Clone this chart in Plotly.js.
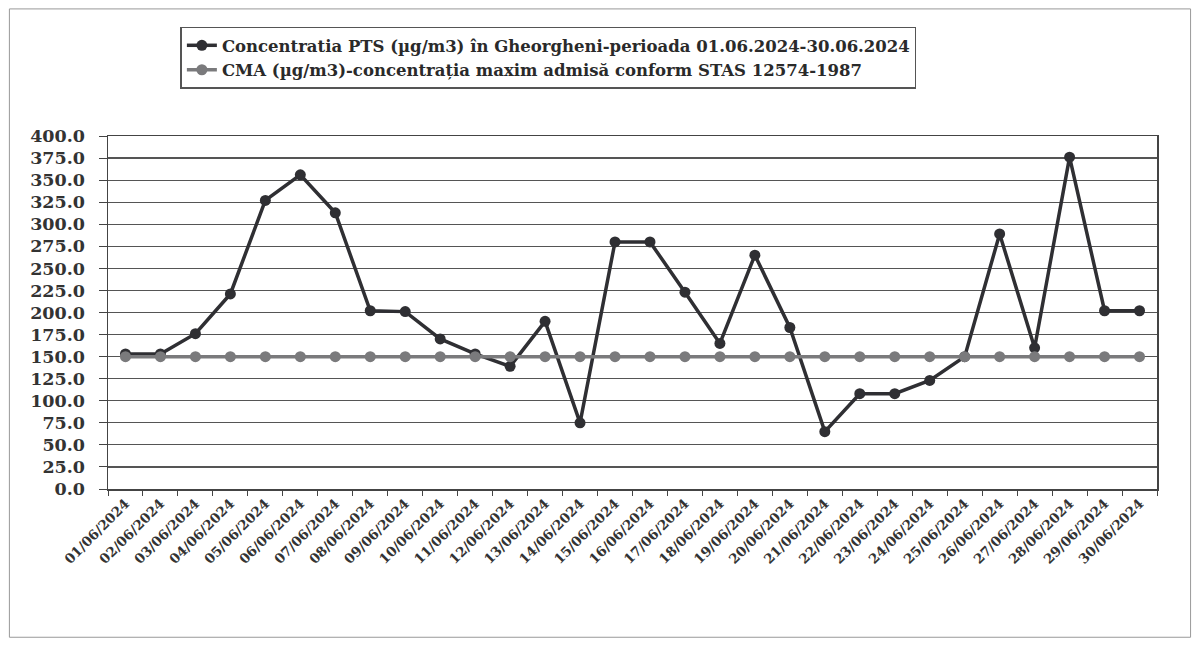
<!DOCTYPE html>
<html>
<head>
<meta charset="utf-8">
<script src="https://cdn.plot.ly/plotly-3.0.1.min.js"></script>
<style>
html,body{margin:0;padding:0;background:#fff;}
#chart{width:1200px;height:645px;}
</style>
</head>
<body>
<div id="chart"></div>
<script>
const dates = ["01/06/2024","02/06/2024","03/06/2024","04/06/2024","05/06/2024","06/06/2024","07/06/2024","08/06/2024","09/06/2024","10/06/2024","11/06/2024","12/06/2024","13/06/2024","14/06/2024","15/06/2024","16/06/2024","17/06/2024","18/06/2024","19/06/2024","20/06/2024","21/06/2024","22/06/2024","23/06/2024","24/06/2024","25/06/2024","26/06/2024","27/06/2024","28/06/2024","29/06/2024","30/06/2024"];
const pts = [153,153,176,221,327,356,313,202,201,170,153,139,190,75,280,280,223,165,265,183,65,108,108,123,150,289,160,376,202,202];
const cma = [150,150,150,150,150,150,150,150,150,150,150,150,150,150,150,150,150,150,150,150,150,150,150,150,150,150,150,150,150,150];
const ptsName = "Concentratia PTS (µg/m3) în Gheorgheni-perioada 01.06.2024-30.06.2024";
const cmaName = "CMA (µg/m3)-concentrația maxim admisă conform STAS 12574-1987";

const serif = "'DejaVu Serif', 'Liberation Serif', serif";

const traces = [
  {x: dates, y: pts, name: ptsName, type: "scatter", mode: "lines+markers",
   line: {color: "#2f2f33", width: 3.5}, marker: {color: "#2f2f33", size: 11}},
  {x: dates, y: cma, name: cmaName, type: "scatter", mode: "lines+markers",
   line: {color: "#7a7a7c", width: 3.5}, marker: {color: "#7a7a7c", size: 11}}
];

const layout = {
  width: 1200, height: 645,
  paper_bgcolor: "#ffffff", plot_bgcolor: "#ffffff",
  margin: {l: 108, r: 43, t: 136, b: 156},
  font: {family: serif, color: "#2a2a2a"},
  showlegend: true,
  legend: {x: 0.069, xanchor: "left", y: 1.31, yanchor: "top", orientation: "v",
    bgcolor: "#ffffff", bordercolor: "#555", borderwidth: 1.5,
    font: {size: 16.5, family: serif, weight: 700, color: "#2a2a2a"},
    tracegroupgap: 0},
  xaxis: {type: "category", range: [-0.5, 29.5], tickson: "boundaries", ticks: "outside", ticklen: 5,
    tickcolor: "#444", tickangle: -45, showgrid: false, showline: true, linecolor: "#444",
    linewidth: 1.5, mirror: true, zeroline: false,
    tickfont: {size: 13.5, family: serif, weight: 700, color: "#333"}},
  yaxis: {range: [0, 400], dtick: 25, tickformat: ".1f", ticks: "outside", ticklen: 8,
    ticklabelstandoff: 10,
    tickcolor: "#444", showgrid: true, gridcolor: "#555", gridwidth: 1.2,
    showline: true, linecolor: "#444", linewidth: 1.5, mirror: true, zeroline: false,
    tickfont: {size: 17.5, family: serif, weight: 700, color: "#333"}},
  shapes: [{type: "rect", xref: "paper", yref: "paper", layer: "below",
    x0: -0.094, x1: 1.032, y0: -0.42, y1: 1.36, line: {color: "#999", width: 1}}]
};

Plotly.newPlot("chart", traces, layout, {displayModeBar: false, staticPlot: true});
</script>
</body>
</html>
